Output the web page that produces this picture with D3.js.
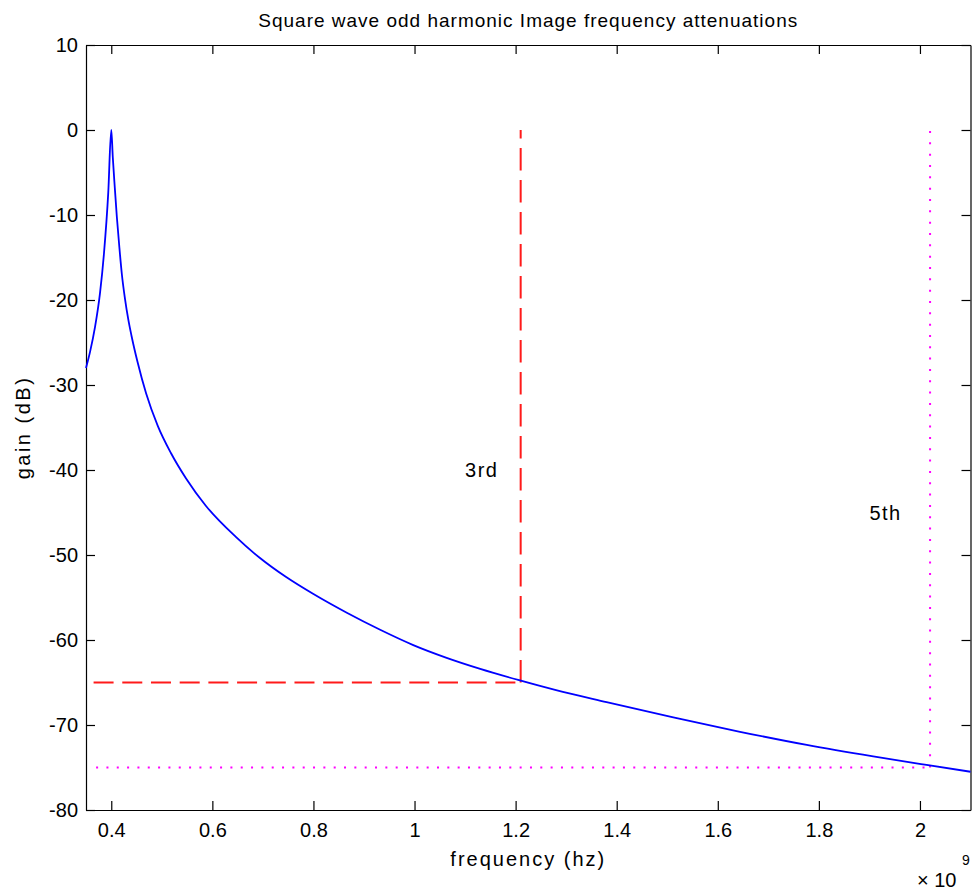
<!DOCTYPE html>
<html><head><meta charset="utf-8">
<script src="https://cdn.jsdelivr.net/npm/d3@7"></script>
<style>
body{margin:0;background:#fff}
text{font-family:"Liberation Sans",Arial,Helvetica,sans-serif;fill:#000}
</style>
</head><body>
<svg id="c" width="972" height="890"></svg>
<script>
// frequency in units of 1e9 Hz
const freq = [0.35,0.358,0.3678,0.3777,0.3856,0.394,0.4,0.403,0.407,0.411,0.416,0.421,0.427,0.434,0.44,0.452,0.469,0.492,0.518,0.548,0.587,0.647,0.693,0.746,0.8,0.866,0.932,0.9975,1.0635,1.13,1.205,1.28,1.38,1.512,1.644,1.776,1.9075,2.013,2.1];
const gain = [-28,-26.1,-23.2,-19.2,-14.5,-7.4,0,-3.2,-6.8,-10.2,-13.8,-17.0,-19.8,-22.4,-24.2,-27.3,-31,-34.8,-38,-41,-44.2,-47.9,-50.3,-52.6,-54.6,-56.8,-58.8,-60.6,-62.1,-63.4,-64.7,-65.9,-67.3,-69.1,-70.8,-72.35,-73.7,-74.7,-75.5];
const xTicks = [0.4,0.6,0.8,1,1.2,1.4,1.6,1.8,2];
const yTicks = [10,0,-10,-20,-30,-40,-50,-60,-70,-80];
const thirdLine = {f:1.21, g:-65, fStart:0.365};
const fifthLine = {f:2.02, g:-75, fStart:0.37};
const labels = [{t:"3rd", x:1.1, y:-40},{t:"5th", x:1.9, y:-45}];
const titleText = "Square wave odd harmonic Image frequency attenuations";

const L=86, R=970.5, T=45, B=810;
const svg = d3.select("#c");
const x = d3.scaleLinear().domain([0.35,2.1]).range([L,R]);
const y = d3.scaleLinear().domain([-80,10]).range([B,T]);
const fs = 20, tick = 9;

function style(g){
  g.selectAll("path.domain").attr("stroke","#000").attr("stroke-width",1.2);
  g.selectAll(".tick line").attr("stroke","#000").attr("stroke-width",1.2);
  g.selectAll("text").attr("font-size",fs).style("font-family",'"Liberation Sans",Arial,sans-serif').attr("fill","#000");
}
svg.append("g").attr("transform",`translate(0,${B})`)
  .call(d3.axisBottom(x).tickValues(xTicks).tickSizeInner(-tick).tickSizeOuter(0).tickPadding(13).tickFormat(d=>String(d)))
  .call(style);
svg.append("g").attr("transform",`translate(0,${T})`)
  .call(d3.axisTop(x).tickValues(xTicks).tickSizeInner(-tick).tickSizeOuter(0).tickFormat(""))
  .call(style);
svg.append("g").attr("transform",`translate(${L},0)`)
  .call(d3.axisLeft(y).tickValues(yTicks).tickSizeInner(-tick).tickSizeOuter(0).tickPadding(8).tickFormat(d=>String(d)))
  .call(style);
svg.append("g").attr("transform",`translate(${R},0)`)
  .call(d3.axisRight(y).tickValues(yTicks).tickSizeInner(-tick).tickSizeOuter(0).tickFormat(""))
  .call(style);

// harmonic marker lines
const seg = (x1,y1,x2,y2,col,dash)=>svg.append("line")
  .attr("x1",x(x1)).attr("y1",y(y1)).attr("x2",x(x2)).attr("y2",y(y2))
  .attr("stroke",col).attr("stroke-width",2).attr("stroke-dasharray",dash);
seg(thirdLine.fStart,thirdLine.g,thirdLine.f,thirdLine.g,"#ff1a1a","20,8.7");
seg(thirdLine.f,thirdLine.g,thirdLine.f,0,"#ff1a1a","22.5,9.5");
seg(fifthLine.fStart,fifthLine.g,fifthLine.f,fifthLine.g,"#ff00ff","2,8.33");
seg(fifthLine.f,fifthLine.g,fifthLine.f,0,"#ff00ff","2,9.33");

// curve
const pts = freq.map((f,i)=>[f,gain[i]]);
svg.append("path").datum(pts)
  .attr("d",d3.line().x(d=>x(d[0])).y(d=>y(d[1])).curve(d3.curveMonotoneX))
  .attr("fill","none").attr("stroke","#0000ff").attr("stroke-width",1.8);

labels.forEach(l=>svg.append("text").attr("x",x(l.x)).attr("y",y(l.y)).attr("dy","0.35em")
  .attr("font-size",fs).attr("letter-spacing",1.5).text(l.t));

svg.append("text").attr("x",(L+R)/2).attr("y",27).attr("text-anchor","middle").attr("font-size",19).attr("letter-spacing",1).text(titleText);
svg.append("text").attr("x",(L+R)/2).attr("y",866).attr("text-anchor","middle").attr("font-size",fs).attr("letter-spacing",2).text("frequency (hz)");
svg.append("text").attr("transform",`translate(30,${(T+B)/2}) rotate(-90)`).attr("text-anchor","middle").attr("font-size",fs).attr("letter-spacing",2.5).text("gain (dB)");
svg.append("text").attr("x",917).attr("y",887).attr("font-size",fs).text("× 10");
svg.append("text").attr("x",962).attr("y",865).attr("font-size",14).text("9");
</script>
</body></html>
